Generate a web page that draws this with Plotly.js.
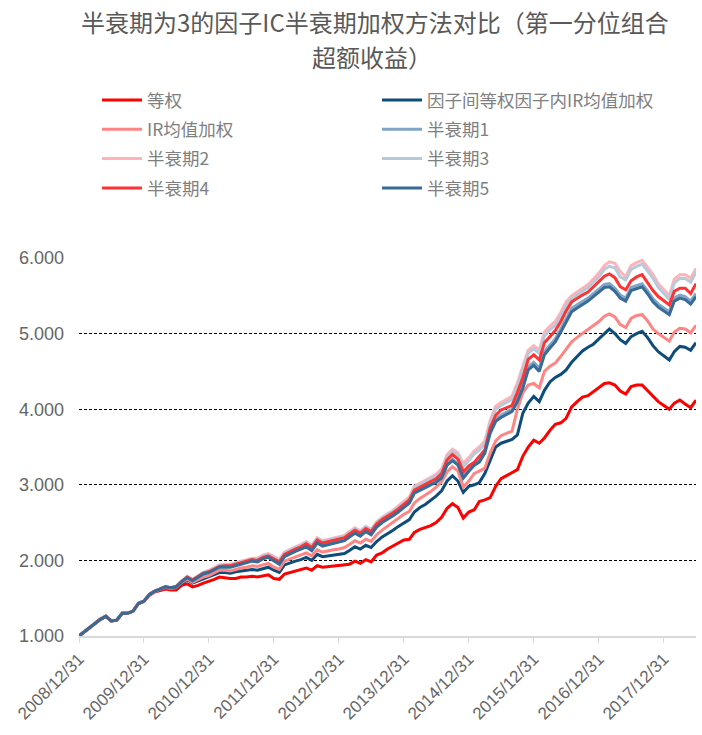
<!DOCTYPE html>
<html>
<head>
<meta charset="utf-8">
<script src="https://cdn.plot.ly/plotly-3.0.1.min.js"></script>
<style>html,body{margin:0;padding:0;background:#fff;}#chart{width:702px;height:735px;}</style>
</head>
<body>
<div id="chart"></div>
<script>
const dates = [
'2008-12-31',
'2009-01-31','2009-02-28','2009-03-31','2009-04-30','2009-05-31','2009-06-30','2009-07-31','2009-08-31','2009-09-30','2009-10-31','2009-11-30','2009-12-31',
'2010-01-31','2010-02-28','2010-03-31','2010-04-30','2010-05-31','2010-06-30','2010-07-31','2010-08-31','2010-09-30','2010-10-31','2010-11-30','2010-12-31',
'2011-01-31','2011-02-28','2011-03-31','2011-04-30','2011-05-31','2011-06-30','2011-07-31','2011-08-31','2011-09-30','2011-10-31','2011-11-30','2011-12-31',
'2012-01-31','2012-02-29','2012-03-31','2012-04-30','2012-05-31','2012-06-30','2012-07-31','2012-08-31','2012-09-30','2012-10-31','2012-11-30','2012-12-31',
'2013-01-31','2013-02-28','2013-03-31','2013-04-30','2013-05-31','2013-06-30','2013-07-31','2013-08-31','2013-09-30','2013-10-31','2013-11-30','2013-12-31',
'2014-01-31','2014-02-28','2014-03-31','2014-04-30','2014-05-31','2014-06-30','2014-07-31','2014-08-31','2014-09-30','2014-10-31','2014-11-30','2014-12-31',
'2015-01-31','2015-02-28','2015-03-31','2015-04-30','2015-05-31','2015-06-30','2015-07-31','2015-08-31','2015-09-30','2015-10-31','2015-11-30','2015-12-31',
'2016-01-31','2016-02-29','2016-03-31','2016-04-30','2016-05-31','2016-06-30','2016-07-31','2016-08-31','2016-09-30','2016-10-31','2016-11-30','2016-12-31',
'2017-01-31','2017-02-28','2017-03-31','2017-04-30','2017-05-31','2017-06-30','2017-07-31','2017-08-31','2017-09-30','2017-10-31','2017-11-30','2017-12-31',
'2018-01-31','2018-02-28','2018-03-31','2018-04-30','2018-05-31','2018-06-30'
];

const tickDates = ['2008-12-31','2009-12-31','2010-12-31','2011-12-31','2012-12-31','2013-12-31','2014-12-31','2015-12-31','2016-12-31','2017-12-31'];
const tickLabels = ['2008/12/31','2009/12/31','2010/12/31','2011/12/31','2012/12/31','2013/12/31','2014/12/31','2015/12/31','2016/12/31','2017/12/31'];

const titleLine1 = '半衰期为3的因子IC半衰期加权方法对比（第一分位组合';
const titleLine2 = '超额收益）';

const seriesNames = ['等权','因子间等权因子内IR均值加权','IR均值加权','半衰期1','半衰期2','半衰期3','半衰期4','半衰期5'];
const seriesColors = ['#ff0000','#0e4d7b','#ff8585','#7fa6c6','#ffb3b8','#b7cadb','#ff3333','#386b96'];

const ew = [
1.00,1.06,1.11,1.17,1.22,1.26,1.20,1.21,1.30,1.30,1.33,1.43,1.46,1.54,
1.58,1.60,1.62,1.61,1.61,1.67,1.69,
1.65,1.67,1.70,1.72,1.75,1.78,1.77,1.76,1.76,
1.78,1.78,1.79,1.78,1.80,1.81,1.76,1.75,1.82,1.84,
1.86,1.88,1.90,1.87,1.93,1.91,1.92,1.93,1.93,1.94,
1.95,1.99,1.96,2.01,1.98,2.07,2.10,2.15,2.19,2.23,
2.27,2.28,2.37,2.41,2.43,2.46,2.50,2.57,2.69,2.75,
2.70,2.56,2.64,2.67,2.78,2.80,2.83,2.98,3.08,3.12,
3.15,3.20,3.38,3.50,3.59,3.55,3.62,3.72,3.80,3.82,
3.88,4.03,4.10,4.16,4.18,4.23,4.29,4.34,4.35,4.32,
4.24,4.20,4.30,4.32,4.32,4.25,4.17,4.10,4.05,4.00,
4.08,4.12,4.07,4.02,4.12
];

const factorEqualIR = [
1.00,1.06,1.11,1.17,1.22,1.26,1.20,1.21,1.30,1.30,1.33,1.43,1.46,1.55,1.59,1.62,1.64,1.63,
1.63,1.70,1.74,1.70,1.73,1.76,1.78,1.81,1.84,1.84,1.83,1.85,
1.86,1.87,1.88,1.87,1.89,1.91,1.87,1.84,1.94,1.97,
1.99,2.01,2.04,2.00,2.08,2.05,2.06,2.07,2.08,2.09,
2.13,2.18,2.15,2.20,2.17,2.25,2.31,2.35,2.40,2.45,
2.50,2.54,2.64,2.70,2.74,2.79,2.85,2.92,3.05,3.12,
3.05,2.90,2.98,3.00,3.03,3.15,3.32,3.50,3.55,3.58,
3.60,3.66,3.95,4.08,4.17,4.10,4.25,4.36,4.42,4.46,
4.52,4.62,4.70,4.77,4.82,4.86,4.93,5.00,5.06,5.00,
4.92,4.87,4.96,5.00,5.03,4.95,4.84,4.76,4.70,4.65,
4.76,4.83,4.82,4.78,4.88
];

const irMean = [
1.00,1.06,1.11,1.17,1.22,1.26,1.20,1.21,1.30,1.30,1.33,1.43,1.46,1.55,1.59,1.62,1.64,1.63,
1.64,1.71,1.75,1.71,1.75,1.78,1.80,1.84,1.87,1.87,1.86,1.88,
1.90,1.91,1.93,1.92,1.94,1.96,1.91,1.88,1.99,2.02,
2.05,2.07,2.10,2.06,2.14,2.11,2.13,2.14,2.15,2.17,
2.21,2.26,2.23,2.28,2.25,2.34,2.40,2.45,2.51,2.56,
2.61,2.65,2.76,2.82,2.86,2.91,2.97,3.04,3.17,3.24,
3.18,2.97,3.05,3.15,3.18,3.22,3.42,3.58,3.65,3.68,
3.71,4.00,4.22,4.32,4.34,4.28,4.50,4.57,4.61,4.70,
4.80,4.89,4.95,5.00,5.05,5.10,5.16,5.23,5.26,5.22,
5.12,5.08,5.20,5.24,5.25,5.17,5.06,5.00,4.95,4.90,
5.02,5.07,5.06,5.01,5.11
];

const half1 = [
1.00,1.06,1.11,1.17,1.22,1.26,1.20,1.21,1.30,1.30,1.33,1.43,1.46,1.55,1.59,1.62,1.65,1.64,
1.65,1.72,1.77,1.73,1.78,1.82,1.85,1.88,1.92,1.92,
1.92,1.94,1.96,1.98,2.00,1.99,2.03,2.05,2.00,1.96,
2.06,2.10,2.13,2.16,2.19,2.14,2.24,2.20,2.22,2.24,
2.25,2.27,2.32,2.37,2.33,2.39,2.35,2.45,2.51,2.55,
2.60,2.65,2.71,2.77,2.90,2.94,2.97,3.02,3.05,3.11,
3.28,3.34,3.28,3.11,3.20,3.28,3.32,3.44,3.71,3.87,
3.92,3.96,4.00,4.14,4.32,4.56,4.62,4.54,4.76,4.85,
4.93,5.06,5.20,5.33,5.38,5.42,5.47,5.53,5.59,5.65,
5.66,5.60,5.51,5.47,5.61,5.64,5.66,5.57,5.46,5.39,
5.34,5.29,5.47,5.51,5.49,5.43,5.53
];

const half2 = [
1.00,1.06,1.11,1.17,1.22,1.26,1.20,1.21,1.30,1.30,1.33,1.43,1.46,1.55,1.59,1.62,1.65,1.64,
1.66,1.73,1.79,1.75,1.80,1.84,1.87,1.91,1.94,1.95,
1.95,1.97,1.99,2.01,2.03,2.03,2.07,2.09,2.05,2.01,
2.11,2.15,2.18,2.21,2.25,2.20,2.30,2.26,2.28,2.30,
2.31,2.33,2.38,2.43,2.39,2.45,2.41,2.51,2.57,2.61,
2.66,2.72,2.78,2.84,2.98,3.02,3.05,3.10,3.14,3.21,
3.40,3.47,3.42,3.28,3.36,3.45,3.50,3.58,3.85,4.04,
4.09,4.13,4.17,4.35,4.58,4.78,4.84,4.78,5.02,5.10,
5.16,5.28,5.42,5.50,5.55,5.60,5.65,5.72,5.80,5.90,
5.95,5.93,5.82,5.75,5.90,5.94,5.97,5.88,5.78,5.66,
5.58,5.50,5.72,5.78,5.78,5.73,5.86
];

const half3 = [
1.00,1.06,1.11,1.17,1.22,1.26,1.20,1.21,1.30,1.30,1.33,1.43,1.46,1.55,1.59,1.62,1.65,1.64,
1.66,1.73,1.78,1.74,1.79,1.84,1.86,1.90,1.93,1.94,
1.94,1.96,1.98,2.00,2.02,2.02,2.06,2.08,2.04,2.00,
2.10,2.14,2.17,2.20,2.24,2.19,2.29,2.25,2.27,2.29,
2.30,2.32,2.37,2.42,2.38,2.44,2.40,2.50,2.56,2.60,
2.65,2.70,2.76,2.82,2.96,3.00,3.03,3.08,3.12,3.18,
3.37,3.44,3.39,3.24,3.32,3.41,3.46,3.54,3.81,4.00,
4.05,4.09,4.13,4.30,4.53,4.74,4.80,4.74,4.97,5.05,
5.11,5.23,5.37,5.46,5.51,5.56,5.61,5.68,5.75,5.85,
5.89,5.87,5.75,5.71,5.85,5.89,5.92,5.83,5.73,5.61,
5.53,5.45,5.67,5.73,5.73,5.68,5.81
];

const half4 = [
1.00,1.06,1.11,1.17,1.22,1.26,1.20,1.21,1.30,1.30,1.33,1.43,1.46,1.55,1.59,1.62,1.65,1.64,
1.65,1.72,1.78,1.74,1.79,1.83,1.85,1.89,1.92,1.93,
1.93,1.95,1.97,1.99,2.01,2.00,2.04,2.06,2.02,1.98,
2.08,2.12,2.15,2.18,2.22,2.17,2.27,2.23,2.25,2.27,
2.28,2.30,2.35,2.40,2.36,2.42,2.38,2.48,2.54,2.58,
2.63,2.68,2.74,2.80,2.93,2.97,3.00,3.05,3.08,3.15,
3.33,3.40,3.34,3.17,3.25,3.30,3.38,3.46,3.75,3.92,
3.99,4.02,4.05,4.22,4.42,4.66,4.72,4.65,4.88,4.96,
5.04,5.16,5.30,5.42,5.47,5.51,5.55,5.62,5.69,5.76,
5.79,5.74,5.62,5.58,5.70,5.75,5.78,5.68,5.57,5.49,
5.44,5.38,5.56,5.60,5.60,5.53,5.66
];

const half5 = [
1.00,1.06,1.11,1.17,1.22,1.26,1.20,1.21,1.30,1.30,1.33,1.43,1.46,1.55,1.59,1.62,1.65,1.64,
1.65,1.72,1.77,1.73,1.78,1.82,1.84,1.88,1.91,1.91,
1.91,1.93,1.95,1.97,1.99,1.98,2.02,2.04,1.99,1.95,
2.05,2.09,2.12,2.15,2.18,2.13,2.23,2.19,2.21,2.23,
2.24,2.26,2.31,2.36,2.32,2.38,2.34,2.44,2.50,2.54,
2.59,2.64,2.70,2.76,2.89,2.93,2.96,3.00,3.03,3.09,
3.26,3.32,3.26,3.09,3.18,3.26,3.30,3.42,3.68,3.84,
3.89,3.93,3.97,4.10,4.28,4.52,4.58,4.50,4.72,4.81,
4.89,5.02,5.16,5.29,5.34,5.38,5.43,5.49,5.55,5.61,
5.62,5.56,5.47,5.43,5.57,5.60,5.62,5.53,5.42,5.35,
5.30,5.25,5.43,5.47,5.45,5.39,5.49
];

const seriesValues = [ew, factorEqualIR, irMean, half1, half2, half3, half4, half5];
const legendOf = ['legend','legend2','legend','legend2','legend','legend2','legend','legend2'];

const traces = seriesValues.map((vals, k) => ({
  type: 'scatter',
  mode: 'lines',
  x: dates,
  y: vals,
  name: seriesNames[k],
  legend: legendOf[k],
  legendgroup: 'g' + k,
  line: {color: seriesColors[k], width: 3},
  hoverinfo: 'skip'
}));

const titleFont = {family: 'Noto Sans CJK SC, sans-serif', size: 24, color: '#595959'};
const legendFont = {family: 'Noto Sans CJK SC, sans-serif', size: 17.5, color: '#7f7f7f'};
const legendBase = {
  xref: 'container', yref: 'container',
  xanchor: 'left', yanchor: 'top',
  orientation: 'v',
  traceorder: 'grouped',
  tracegroupgap: 3.6,
  font: legendFont,
  bgcolor: 'rgba(0,0,0,0)',
  borderwidth: 0,
  itemwidth: 40
};

const layout = {
  width: 702,
  height: 735,
  margin: {l: 79, r: 6, t: 258, b: 99, pad: 0, autoexpand: false},
  paper_bgcolor: '#ffffff',
  plot_bgcolor: '#ffffff',
  title: {
    text: titleLine1,
    font: titleFont,
    x: 0.534, xanchor: 'center', xref: 'container',
    y: 1 - 15/735, yanchor: 'top', yref: 'container'
  },
  annotations: [{
    text: titleLine2,
    font: titleFont,
    xref: 'paper', yref: 'paper',
    x: (372 - 79) / 617, y: (636 - 57) / 378,
    xanchor: 'center', yanchor: 'middle',
    showarrow: false
  }],
  showlegend: true,
  legend: Object.assign({}, legendBase, {x: 97/702, y: 1 - 82/735}),
  legend2: Object.assign({}, legendBase, {x: 377/702, y: 1 - 82/735}),
  xaxis: {
    type: 'date',
    range: [dates[0], dates[dates.length - 1]],
    tickmode: 'array',
    tickvals: tickDates,
    ticktext: tickLabels,
    tickangle: -45,
    tickfont: {family: 'Liberation Sans, Arial, sans-serif', size: 17, color: '#666666'},
    showgrid: false,
    zeroline: false,
    showline: true,
    linecolor: '#d9d9d9',
    linewidth: 1.5,
    ticks: 'outside',
    ticklen: 5,
    tickcolor: '#d9d9d9',
    tickwidth: 1
  },
  yaxis: {
    range: [1, 6],
    tick0: 1,
    dtick: 1,
    tickformat: '.3f',
    tickfont: {family: 'Liberation Sans, Arial, sans-serif', size: 18, color: '#666666'},
    showgrid: true,
    gridcolor: '#000000',
    gridwidth: 1,
    griddash: '3px,2px',
    zeroline: false,
    showline: false,
    ticks: '',
    ticklabelstandoff: 14
  }
};

Plotly.newPlot('chart', traces, layout, {staticPlot: true, displayModeBar: false});
</script>
</body>
</html>
